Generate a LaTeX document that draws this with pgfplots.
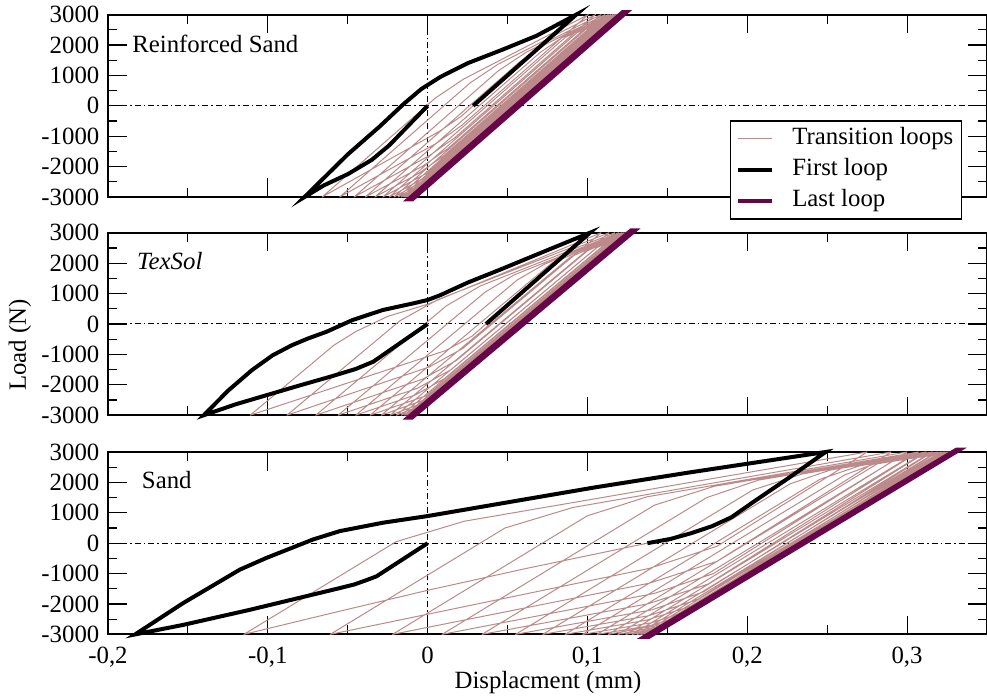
\documentclass[border=0pt]{standalone}
\usepackage{fontspec}
\setmainfont{Liberation Serif}
\usepackage{pgfplots}
\pgfplotsset{compat=1.18}
\definecolor{trans}{RGB}{188,138,138}
\definecolor{lastc}{RGB}{102,6,72}
\pgfplotsset{
  panel/.style={
    scale only axis, width=439.5pt, height=91.2pt,
    anchor=south west,
    xmin=-0.2, xmax=0.35, ymin=-3000, ymax=3000,
    xtick={-0.2,-0.1,0,0.1,0.2,0.3},
    minor xtick={-0.15,-0.05,0.05,0.15,0.25},
    ytick={-3000,-2000,-1000,0,1000,2000,3000},
    minor ytick={-2500,-1500,-500,500,1500,2500},
    yticklabels={-3000,-2000,-1000,0,1000,2000,3000},
    xticklabels={},
    xtick pos=both, ytick pos=both,
    tick align=inside,
    major tick length=9.3pt, minor tick length=4.6pt,
    tick style={black, line width=0.55pt},
    axis line style={line width=1pt},
    clip=false, scaled ticks=false,
  },
  dashdot/.style={black, line width=0.5pt, dash pattern=on 3pt off 1.5pt on 0.75pt off 1.5pt, forget plot},
  trl/.style={trans, line width=0.5pt, line join=round},
  fst/.style={black, line width=2pt},
  lst/.style={lastc, line width=2pt},
}
\begin{document}
\fontsize{12.4pt}{14.5pt}\selectfont
\begin{tikzpicture}
\useasboundingbox (0,0) rectangle (493.5pt,350pt);

% ---------------- Reinforced Sand ----------------
\begin{axis}[panel, at={(54pt,251.5pt)},
  legend style={at={(0.9716,0.4208)}, anchor=north east, draw=black, line width=0.7pt,
    fill=white, inner xsep=3pt, inner ysep=2.5pt, row sep=2.5pt,
    nodes={inner sep=1pt, text height=8.5pt, text depth=2.5pt},
    /tikz/every odd column/.append style={column sep=8pt}},
  legend cell align=left,
  legend image code/.code={\draw[#1] (0pt,0pt) -- (17pt,0pt);}]
\addplot[dashdot] coordinates {(-0.2,0) (0.35,0)};
\addplot[dashdot] coordinates {(0,-3000) (0,3000)};
\addplot[trl, forget plot] coordinates {
(0.0285,0) (0.0209,-350) (0.0075,-836) (-0.066,-3000)
(0.0047,250) (0.0223,872) (0.1005,3000)
(0.0212,-650) (0.0055,-1234) (-0.055,-3000)
(0.0265,750) (0.0441,1368) (0.105,3000)
(0.017,-1050) (0.0013,-1631) (-0.046,-3000)
(0.0442,1150) (0.0618,1765) (0.1085,3000)
(0.0128,-1400) (-0.0028,-1976) (-0.039,-3000)
(0.0577,1450) (0.0733,2010) (0.111,3000)
(0.0099,-1650) (-0.0057,-2227) (-0.033,-3000)
(0.0703,1750) (0.0838,2234) (0.113,3000)
(0.0,-2200) (-0.028,-3000)
(0.0861,2250) (0.1146,3000)
(-0.0021,-2370) (-0.024,-3000)
(0.0934,2400) (0.1159,3000)
(-0.0037,-2500) (-0.021,-3000)
(0.099,2520) (0.1169,3000)
(-0.0048,-2600) (-0.0185,-3000)
(0.1037,2620) (0.1177,3000)
(-0.0058,-2680) (-0.0165,-3000)
(0.1074,2700) (0.1183,3000)
(-0.0065,-2740) (-0.015,-3000)
(0.1102,2760) (0.1188,3000)
(-0.0071,-2790) (-0.0138,-3000)
(0.1125,2810) (0.1192,3000)
(-0.0075,-2830) (-0.0128,-3000)
(0.1144,2850) (0.1195,3000)
(-0.0079,-2860) (-0.012,-3000)
(0.1158,2880) (0.1197,3000)
(-0.0083,-2890) (-0.0114,-3000)
(0.1171,2910) (0.1199,3000)
(-0.0086,-2910) (-0.011,-3000)
(0.1179,2930) (0.12,3000)
(-0.0089,-2930) (-0.0107,-3000)
(0.1186,2950) (0.1201,3000)
(-0.0092,-2950) (-0.0105,-3000)
(0.1192,2965) (0.1202,3000)
(-0.0095,-2965) (-0.0103,-3000)
};
\addplot[lst, forget plot] coordinates {(-0.0121,-3080) (0.1220,3080) (0.1245,3080) (-0.0096,-3080)} -- cycle;
\addplot[fst, forget plot] coordinates {
(0,0) (-0.012,-650) (-0.024,-1300) (-0.035,-1780) (-0.05,-2250) (-0.065,-2620) (-0.077,-3000)
(-0.05,-1600) (-0.03,-680) (-0.015,60) (-0.004,550) (0.008,950) (0.025,1400) (0.047,1850) (0.068,2300) (0.093,3000)
(0.0285,0)
};
\addlegendimage{trl}\addlegendentry{Transition loops}
\addlegendimage{fst}\addlegendentry{First loop}
\addlegendimage{lst}\addlegendentry{Last loop}
\node[anchor=base west, inner sep=0pt] at (axis cs:-0.185,1754) {Reinforced Sand};
\end{axis}

% ---------------- TexSol ----------------
\begin{axis}[panel, at={(54pt,142.4pt)}]
\addplot[dashdot] coordinates {(-0.2,0) (0.35,0)};
\addplot[dashdot] coordinates {(0,-3000) (0,3000)};
\addplot[trl] coordinates {
(0.0365,0) (0.0278,-400) (0.0113,-874) (-0.111,-3000)
(-0.0587,-700) (-0.045,-250) (-0.025,250) (0,650) (0.03,1300) (0.06,1950) (0.1085,3000)
(0.0221,-800) (0.001,-1414) (-0.088,-3000)
(-0.0175,100) (0.0065,807) (0.1135,3000)
(0.018,-1200) (-0.003,-1812) (-0.07,-3000)
(0.0118,600) (0.0329,1250) (0.117,3000)
(0.0147,-1500) (-0.0064,-2114) (-0.056,-3000)
(0.036,1050) (0.054,1612) (0.1195,3000)
(0.0104,-1800) (-0.0075,-2329) (-0.045,-3000)
(0.0561,1450) (0.073,1964) (0.1213,3000)
(-0.0003,-2350) (-0.036,-3000)
(0.0776,2000) (0.1226,3000)
(-0.0024,-2500) (-0.029,-3000)
(0.0892,2200) (0.1236,3000)
(-0.0041,-2620) (-0.0235,-3000)
(0.0985,2370) (0.1243,3000)
(-0.0055,-2710) (-0.0195,-3000)
(0.1055,2500) (0.1248,3000)
(-0.0066,-2780) (-0.0165,-3000)
(0.1108,2600) (0.1252,3000)
(-0.0073,-2830) (-0.0143,-3000)
(0.1148,2680) (0.1255,3000)
(-0.0079,-2870) (-0.013,-3000)
(0.1177,2750) (0.1257,3000)
(-0.0084,-2900) (-0.012,-3000)
(0.12,2810) (0.1258,3000)
(-0.0089,-2925) (-0.0113,-3000)
(0.1219,2860) (0.1259,3000)
(-0.0092,-2945) (-0.0109,-3000)
(0.1231,2895) (0.126,3000)
(-0.0095,-2960) (-0.0107,-3000)
(0.124,2925) (0.126,3000)
(-0.0097,-2970) (-0.0106,-3000)
(0.1245,2945) (0.126,3000)
(-0.0099,-2980) (-0.0105,-3000)
(0.125,2960) (0.126,3000)
(-0.01,-2985) (-0.0105,-3000)
};
\addplot[lst] coordinates {(-0.0123,-3080) (0.1273,3080) (0.1298,3080) (-0.0098,-3080)} -- cycle;
\addplot[fst] coordinates {
(0,0) (-0.034,-1240) (-0.045,-1480) (-0.06,-1720) (-0.08,-2020) (-0.1,-2330) (-0.12,-2640) (-0.14,-3000)
(-0.125,-2200) (-0.11,-1520) (-0.097,-1030) (-0.085,-700) (-0.075,-480) (-0.063,-250) (-0.047,130) (-0.028,460) (-0.008,690) (0,790) (0.008,950) (0.025,1360) (0.045,1780) (0.075,2430) (0.1015,3000)
(0.0365,0)
};
\node[anchor=base west, inner sep=0pt] at (axis cs:-0.182,1803) {\itshape TexSol};
\end{axis}

% ---------------- Sand ----------------
\begin{axis}[panel, at={(54pt,32.8pt)},
  xticklabels={{-0,2},{-0,1},0,{0,1},{0,2},{0,3}},
  xticklabel style={yshift=-2pt}]
\addplot[dashdot] coordinates {(-0.2,0) (0.35,0)};
\addplot[dashdot] coordinates {(0,-3000) (0,3000)};
\addplot[trl] coordinates {
(0.1375,0) (0.06,-850) (0,-1550) (-0.06,-2300) (-0.115,-3000)
(-0.0197,50) (0.0228,721) (0.275,3000)
(0.1811,-100) (0.1389,-826) (-0.061,-3000)
(0.0484,500) (0.0909,1175) (0.290,3000)
(0.1809,-600) (0.1388,-1314) (-0.022,-3000)
(0.0999,900) (0.1374,1527) (0.300,3000)
(0.1788,-1000) (0.1417,-1654) (0.009,-3000)
(0.1418,1250) (0.1793,1871) (0.307,3000)
(0.1752,-1350) (0.1381,-1992) (0.034,-3000)
(0.1746,1500) (0.2071,2076) (0.312,3000)
(0.1726,-1600) (0.1405,-2190) (0.055,-3000)
(0.2034,1750) (0.2344,2277) (0.316,3000)
(0.169,-1850) (0.1384,-2385) (0.072,-3000)
(0.2267,1950) (0.2517,2403) (0.319,3000)
(0.166,-2050) (0.1369,-2533) (0.086,-3000)
(0.2454,2100) (0.2701,2543) (0.3215,3000)
(0.1639,-2200) (0.1404,-2614) (0.097,-3000)
(0.2611,2250) (0.2795,2609) (0.3235,3000)
(0.1614,-2350) (0.1394,-2710) (0.106,-3000)
(0.2813,2610) (0.325,3000)
(0.1481,-2660) (0.113,-3000)
(0.2908,2690) (0.3262,3000)
(0.1474,-2720) (0.119,-3000)
(0.299,2760) (0.3271,3000)
(0.1468,-2770) (0.124,-3000)
(0.3056,2810) (0.3278,3000)
(0.1462,-2810) (0.128,-3000)
(0.3108,2850) (0.3283,3000)
(0.1455,-2850) (0.131,-3000)
(0.3148,2880) (0.3287,3000)
(0.1449,-2880) (0.1335,-3000)
(0.3182,2910) (0.329,3000)
(0.1443,-2910) (0.1355,-3000)
(0.3208,2930) (0.3292,3000)
(0.1439,-2930) (0.137,-3000)
(0.3229,2950) (0.3294,3000)
(0.1435,-2950) (0.138,-3000)
};
\addplot[lst] coordinates {(0.1355,-3080) (0.3310,3080) (0.3330,3080) (0.1385,-3080)} -- cycle;
\addplot[fst] coordinates {
(0,0) (-0.032,-1091) (-0.038,-1210) (-0.046,-1360) (-0.0592,-1531) (-0.1113,-2192) (-0.153,-2688) (-0.183,-3000)
(-0.153,-1971) (-0.1175,-870) (-0.1008,-483) (-0.0717,122) (-0.055,397) (-0.0279,674) (0,893) (0.104,1830) (0.1638,2327) (0.249,3000)
(0.226,2150) (0.205,1400) (0.19,850) (0.178,560) (0.165,330) (0.152,140) (0.1375,0)
};
\node[anchor=base west, inner sep=0pt] at (axis cs:-0.179,1798) {Sand};
\end{axis}

\node[rotate=90] at (10pt,177.5pt) {Load (N)};
\node[anchor=base] at (274pt,5.5pt) {Displacment (mm)};
\end{tikzpicture}
\end{document}
